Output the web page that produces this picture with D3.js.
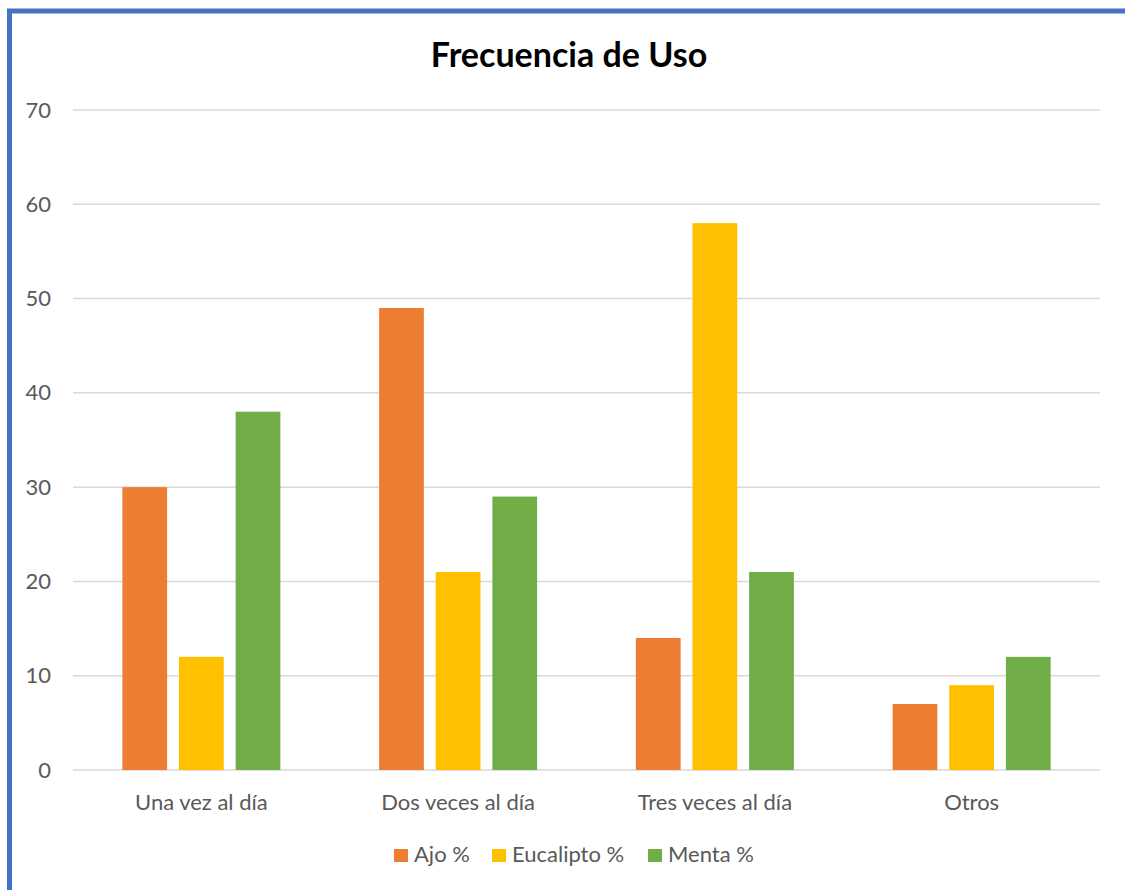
<!DOCTYPE html>
<html lang="es">
<head>
    <meta charset="UTF-8">
    <title>Frecuencia de Uso</title>
    <script src="https://d3js.org/d3.v7.min.js"></script>
    <style>
        body { margin: 0; background: #fff; }
        text { font-family: Lato, "Open Sans", sans-serif; fill: #595959; }
        .grid line { stroke: #d9d9d9; stroke-width: 1.5px; }
        .title { font-size: 34px; font-weight: bold; fill: #000; }
    </style>
</head>
<body>
    <script>
        // datos
        const categories = ["Una vez al día", "Dos veces al día", "Tres veces al día", "Otros"];
        const seriesNames = ["Ajo %", "Eucalipto %", "Menta %"];
        const ajo = [30, 49, 14, 7];
        const eucalipto = [12, 21, 58, 9];
        const menta = [38, 29, 21, 12];
        const yTicks = [0, 10, 20, 30, 40, 50, 60, 70];
        const colors = ["#ED7D31", "#FFC000", "#70AD47"];

        const series = [ajo, eucalipto, menta];

        const W = 1125, H = 890;
        const margin = { top: 110, right: 25, bottom: 120, left: 73 };

        const svg = d3.select("body").append("svg")
            .attr("width", W)
            .attr("height", H);

        // borde azul
        svg.append("path")
            .attr("d", `M9.5,${H} L9.5,11 L${W},11`)
            .attr("fill", "none")
            .attr("stroke", "#4472C4")
            .attr("stroke-width", 5);

        const x0 = d3.scaleBand()
            .domain(categories)
            .range([margin.left, W - margin.right]);

        const x1 = d3.scaleBand()
            .domain(seriesNames)
            .range([0, 158])
            .paddingInner(0.21);

        const y = d3.scaleLinear()
            .domain([0, 70])
            .range([770, 110]);

        // rejilla
        svg.append("g")
            .attr("class", "grid")
            .selectAll("line")
            .data(yTicks)
            .join("line")
            .attr("x1", margin.left)
            .attr("x2", W - margin.right)
            .attr("y1", d => y(d))
            .attr("y2", d => y(d));

        // eje y
        const yAxis = svg.append("g")
            .attr("transform", `translate(${margin.left},0)`)
            .call(d3.axisLeft(y).tickValues(yTicks).tickSize(0).tickPadding(22));
        yAxis.select(".domain").remove();
        yAxis.selectAll("text").style("font-size", "22px").attr("fill", "#595959");

        // barras
        const groups = svg.append("g")
            .selectAll("g")
            .data(categories)
            .join("g")
            .attr("transform", c => `translate(${x0(c) + (x0.bandwidth() - 158) / 2},0)`);

        groups.selectAll("rect")
            .data((c, i) => series.map((s, j) => ({ name: seriesNames[j], value: s[i], color: colors[j] })))
            .join("rect")
            .attr("x", d => x1(d.name))
            .attr("width", x1.bandwidth())
            .attr("y", d => y(d.value))
            .attr("height", d => y(0) - y(d.value))
            .attr("fill", d => d.color);

        // eje x
        const xAxis = svg.append("g")
            .attr("transform", `translate(0,${y(0)})`)
            .call(d3.axisBottom(x0).tickSize(0).tickPadding(24));
        xAxis.select(".domain").remove();
        xAxis.selectAll("text").style("font-size", "22px").attr("fill", "#595959");

        // título
        svg.append("text")
            .attr("class", "title")
            .attr("x", 569)
            .attr("y", 67)
            .attr("text-anchor", "middle")
            .text("Frecuencia de Uso");

        // leyenda
        const legendX = [394, 492, 648];
        const legend = svg.append("g")
            .selectAll("g")
            .data(seriesNames)
            .join("g")
            .attr("transform", (d, i) => `translate(${legendX[i]},849)`);
        legend.append("rect")
            .attr("width", 14)
            .attr("height", 13)
            .attr("fill", (d, i) => colors[i]);
        legend.append("text")
            .attr("x", 20)
            .attr("y", 13)
            .style("font-size", "22px")
            .text(d => d);
    </script>
</body>
</html>
